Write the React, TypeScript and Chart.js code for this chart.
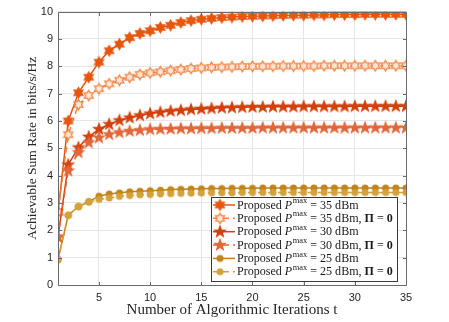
import React, { useEffect, useRef } from 'react';
import { Chart, registerables } from 'chart.js';

Chart.register(...registerables);

// ---------- data ----------
const iterations = [1, 2, 3, 4, 5, 6, 7, 8, 9, 10, 11, 12, 13, 14, 15, 16, 17, 18, 19, 20, 21, 22, 23, 24, 25, 26, 27, 28, 29, 30, 31, 32, 33, 34, 35];
const xTickValues = [5, 10, 15, 20, 25, 30, 35];
const yMin = 0;
const yMax = 10;

const rate35 = [2.67, 6.0, 7.03, 7.6, 8.15, 8.57, 8.81, 9.05, 9.2, 9.3, 9.42, 9.5, 9.6, 9.67, 9.72, 9.75, 9.78, 9.8, 9.82, 9.83, 9.84, 9.85, 9.86, 9.87, 9.87, 9.88, 9.88, 9.89, 9.89, 9.89, 9.9, 9.9, 9.9, 9.9, 9.9];
const rate35Pi0 = [2.67, 5.5, 6.6, 6.93, 7.18, 7.36, 7.49, 7.6, 7.7, 7.76, 7.8, 7.84, 7.88, 7.92, 7.94, 7.96, 7.97, 7.98, 7.99, 8.0, 8.0, 8.0, 8.01, 8.01, 8.01, 8.01, 8.02, 8.02, 8.02, 8.02, 8.02, 8.02, 8.02, 8.02, 8.02];
const rate30 = [1.76, 4.4, 5.03, 5.42, 5.7, 5.88, 6.02, 6.12, 6.2, 6.27, 6.32, 6.36, 6.39, 6.42, 6.44, 6.46, 6.48, 6.49, 6.5, 6.51, 6.51, 6.52, 6.52, 6.52, 6.53, 6.53, 6.53, 6.53, 6.53, 6.54, 6.54, 6.54, 6.54, 6.54, 6.54];
const rate30Pi0 = [1.76, 4.18, 4.85, 5.21, 5.39, 5.51, 5.58, 5.63, 5.66, 5.69, 5.7, 5.71, 5.72, 5.72, 5.73, 5.73, 5.74, 5.74, 5.74, 5.74, 5.75, 5.75, 5.75, 5.75, 5.75, 5.75, 5.75, 5.75, 5.75, 5.75, 5.75, 5.75, 5.75, 5.75, 5.75];
const rate25 = [0.93, 2.55, 2.87, 3.05, 3.25, 3.33, 3.37, 3.41, 3.43, 3.45, 3.47, 3.49, 3.5, 3.51, 3.52, 3.53, 3.53, 3.54, 3.54, 3.54, 3.55, 3.55, 3.55, 3.55, 3.55, 3.55, 3.55, 3.55, 3.55, 3.55, 3.55, 3.55, 3.55, 3.55, 3.55];
const rate25Pi0 = [0.93, 2.55, 2.87, 3.03, 3.13, 3.18, 3.24, 3.27, 3.3, 3.31, 3.33, 3.34, 3.35, 3.36, 3.36, 3.37, 3.37, 3.37, 3.38, 3.38, 3.38, 3.38, 3.38, 3.38, 3.38, 3.38, 3.38, 3.38, 3.38, 3.38, 3.38, 3.38, 3.38, 3.38, 3.38];

const seriesLabels = [
  'Proposed Pᵐᵃˣ = 35 dBm',
  'Proposed Pᵐᵃˣ = 35 dBm, Π = 0',
  'Proposed Pᵐᵃˣ = 30 dBm',
  'Proposed Pᵐᵃˣ = 30 dBm, Π = 0',
  'Proposed Pᵐᵃˣ = 25 dBm',
  'Proposed Pᵐᵃˣ = 25 dBm, Π = 0',
];
const xTitle = 'Number of Algorithmic Iterations t';
const yTitle = 'Achievable Sum Rate in bits/s/Hz';

// ---------- styles ----------
const seriesStyles = [
  { color: '#E8560E', dash: [], marker: 'hexagram', filled: true },
  { color: '#F2823F', dash: [6, 4], marker: 'hexagram', filled: false },
  { color: '#D2400C', dash: [], marker: 'star', filled: true },
  { color: '#E2673A', dash: [6, 4], marker: 'star', filled: true },
  { color: '#C2841A', dash: [], marker: 'circle', filled: true },
  { color: '#D4A23C', dash: [6, 4], marker: 'circle', filled: true },
];

function makeMarker(kind: string, color: string, filled: boolean): HTMLCanvasElement {
  const R = kind === 'hexagram' ? 5.2 : kind === 'star' ? 5.6 : 3.0;
  const size = Math.ceil(2 * R + 4);
  const c = document.createElement('canvas');
  c.width = size;
  c.height = size;
  const g = c.getContext('2d')!;
  const cx = size / 2;
  const cy = size / 2;
  g.beginPath();
  if (kind === 'circle') {
    g.arc(cx, cy, R, 0, Math.PI * 2);
  } else {
    const n = kind === 'hexagram' ? 6 : 5;
    const inner = kind === 'hexagram' ? R / Math.sqrt(3) : R * 0.42;
    for (let i = 0; i < 2 * n; i++) {
      const ang = -Math.PI / 2 + (i * Math.PI) / n;
      const r = i % 2 === 0 ? R : inner;
      const px = cx + r * Math.cos(ang);
      const py = cy + r * Math.sin(ang);
      if (i === 0) g.moveTo(px, py);
      else g.lineTo(px, py);
    }
    g.closePath();
  }
  g.fillStyle = filled ? color : '#fde6d6';
  g.fill();
  g.lineWidth = 1.2;
  g.strokeStyle = color;
  g.stroke();
  return c;
}

function drawRich(ctx: CanvasRenderingContext2D, text: string, x: number, y: number, fs: number, measureOnly: boolean): number {
  const fam = '"Liberation Serif", "DejaVu Serif", serif';
  const parts = text.split(/(Pᵐᵃˣ|Π = 0)/);
  let cx = x;
  const put = (s: string, font: string, dy: number) => {
    ctx.font = font;
    if (!measureOnly) ctx.fillText(s, cx, y + dy);
    cx += ctx.measureText(s).width;
  };
  for (const p of parts) {
    if (!p) continue;
    if (p === 'Pᵐᵃˣ') {
      put('P', `italic ${fs}px ${fam}`, 0);
      cx += 0.5;
      put('max', `${(fs * 0.7).toFixed(2)}px ${fam}`, -fs * 0.38);
    } else if (p === 'Π = 0') {
      put('Π', `bold ${fs}px ${fam}`, 0);
      put(' = ', `${fs}px ${fam}`, 0);
      put('0', `bold ${fs}px ${fam}`, 0);
    } else {
      put(p, `${fs}px ${fam}`, 0);
    }
  }
  return cx - x;
}

const decorPlugin = {
  id: 'decor',
  afterDraw(chart: any) {
    const { ctx, chartArea: a } = chart;
    const xs = chart.scales.x;
    const ys = chart.scales.y;
    ctx.save();
    // axes box
    ctx.strokeStyle = '#6a6a6a';
    ctx.lineWidth = 1;
    const L = Math.round(a.left) + 0.5;
    const Rt = Math.round(a.right) + 0.5;
    const T = Math.round(a.top) + 0.5;
    const B = Math.round(a.bottom) + 0.5;
    ctx.beginPath();
    ctx.moveTo(L, T);
    ctx.lineTo(Rt, T);
    ctx.lineTo(Rt, B);
    ctx.lineTo(L, B);
    ctx.closePath();
    // inward ticks
    const tl = 3.5;
    for (const v of xTickValues) {
      const px = Math.round(xs.getPixelForValue(v)) + 0.5;
      ctx.moveTo(px, B);
      ctx.lineTo(px, B - tl);
      ctx.moveTo(px, T);
      ctx.lineTo(px, T + tl);
    }
    for (const t of ys.ticks) {
      const py = Math.round(ys.getPixelForValue(t.value)) + 0.5;
      ctx.moveTo(L, py);
      ctx.lineTo(L + tl, py);
      ctx.moveTo(Rt, py);
      ctx.lineTo(Rt - tl, py);
    }
    ctx.stroke();

    // legend
    const bx0 = 211.5;
    const by0 = 197.5;
    const bx1 = 397.5;
    const by1 = 281.5;
    ctx.fillStyle = '#ffffff';
    ctx.fillRect(bx0, by0, bx1 - bx0, by1 - by0);
    ctx.strokeStyle = '#3a3a3a';
    ctx.lineWidth = 1;
    ctx.strokeRect(bx0, by0, bx1 - bx0, by1 - by0);
    const dsets = chart.data.datasets;
    let widest = 0;
    for (const d of dsets) widest = Math.max(widest, drawRich(ctx, d.label, 0, 0, 12, true));
    const fs = Math.min(13, (12 * 156) / widest);
    ctx.textBaseline = 'middle';
    ctx.textAlign = 'left';
    ctx.fillStyle = '#1a1a1a';
    dsets.forEach((d: any, i: number) => {
      const cy = 205 + i * 13.35;
      ctx.save();
      ctx.strokeStyle = d.borderColor;
      ctx.lineWidth = 1.5;
      ctx.setLineDash(d.borderDash || []);
      ctx.beginPath();
      ctx.moveTo(213, cy);
      ctx.lineTo(235, cy);
      ctx.stroke();
      ctx.restore();
      const m = d.pointStyle as HTMLCanvasElement;
      ctx.drawImage(m, 220 - m.width / 2, cy - m.height / 2);
      ctx.fillStyle = '#1a1a1a';
      drawRich(ctx, d.label, 237, cy + 0.5, fs, false);
    });
    ctx.restore();
  },
};

export default function App() {
  const ref = useRef<HTMLCanvasElement | null>(null);
  useEffect(() => {
    if (!ref.current) return;
    const datasets = [rate35, rate35Pi0, rate30, rate30Pi0, rate25, rate25Pi0].map((vals, i) => {
      const st = seriesStyles[i];
      const marker = makeMarker(st.marker, st.color, st.filled);
      return {
        label: seriesLabels[i],
        data: vals.map((v, k) => ({ x: iterations[k], y: v })),
        borderColor: st.color,
        backgroundColor: st.color,
        borderWidth: 1.5,
        borderDash: st.dash,
        pointStyle: marker,
        pointRadius: 5,
        tension: 0,
        order: 6 - i,
      };
    });
    const chart = new Chart(ref.current, {
      type: 'line',
      data: { datasets },
      options: {
        responsive: false,
        animation: false,
        devicePixelRatio: 1,
        layout: { padding: { top: 10, right: 43, left: 0, bottom: 0 } },
        plugins: { legend: { display: false }, tooltip: { enabled: false } },
        scales: {
          x: {
            type: 'linear',
            min: iterations[0],
            max: iterations[iterations.length - 1],
            afterBuildTicks: (s: any) => {
              s.ticks = xTickValues.map((v) => ({ value: v }));
            },
            afterFit: (s: any) => {
              s.height = 37;
            },
            ticks: {
              autoSkip: false,
              maxRotation: 0,
              padding: 6,
              color: '#262626',
              font: { family: '"Liberation Sans", Arial, sans-serif', size: 11 },
            },
            grid: { color: '#e6e6e6', drawTicks: false, lineWidth: 1 },
            border: { display: false },
            title: {
              display: true,
              text: xTitle,
              color: '#262626',
              font: { family: '"Liberation Serif", serif', size: 15 },
              padding: { top: 0, bottom: 3 },
            },
          },
          y: {
            type: 'linear',
            min: yMin,
            max: yMax,
            afterFit: (s: any) => {
              s.width = 58;
            },
            ticks: {
              stepSize: 1,
              padding: 5,
              color: '#262626',
              font: { family: '"Liberation Sans", Arial, sans-serif', size: 11 },
            },
            grid: { color: '#e6e6e6', drawTicks: false, lineWidth: 1 },
            border: { display: false },
            title: {
              display: true,
              text: yTitle,
              color: '#262626',
              font: { family: '"Liberation Serif", serif', size: 13.5 },
              padding: { top: 24, bottom: 0 },
            },
          },
        },
      },
      plugins: [decorPlugin],
    } as any);
    return () => chart.destroy();
  }, []);
  return (
    <div style={{ position: 'fixed', left: 0, top: 0, width: 449, height: 322, background: '#fff' }}>
      <canvas ref={ref} width={449} height={322} style={{ display: 'block' }} />
    </div>
  );
}
